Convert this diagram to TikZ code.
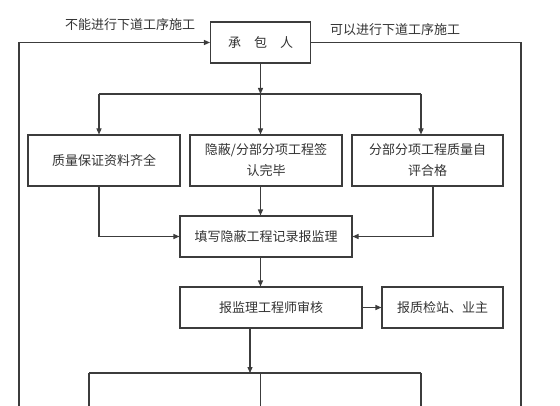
\documentclass[tikz,border=0pt]{standalone}
\usepackage{fontspec}
\setmainfont{Noto Sans CJK SC}
\usepackage{tikz}
\usetikzlibrary{arrows.meta,positioning,calc}
\usepackage{xcolor}
\definecolor{linegray}{HTML}{3C3C3C}
\definecolor{textgray}{HTML}{333333}
\tikzset{
  box/.style={draw=linegray, line width=0.8pt, align=center, fill=white, inner sep=0pt, text=textgray, font=\fontsize{9.75}{15.75}\selectfont},
  wideline/.style={draw=linegray, line width=0.8pt},
  arrow/.style={wideline, -{Triangle[length=4.5pt,width=3.8pt]}},
  flowlabel/.style={text=textgray, font=\fontsize{9.75}{12}\selectfont}
}

\begin{document}
\begin{tikzpicture}[x=0.75pt, y=-0.75pt]
  \useasboundingbox (0,0) rectangle (560,406);
  \node[box, minimum width=75pt, minimum height=30.75pt] (contractor) at (260.5,42.5) {承\hspace{1em}包\hspace{1em}人};
  \node[box, minimum width=114pt, minimum height=38.25pt] (quality) at (104,160.5) {质量保证资料齐全};
  \node[box, minimum width=114pt, minimum height=38.25pt] (signoff) at (266,160.5) {隐蔽/分部分项工程签\\认完毕};
  \node[box, minimum width=113.25pt, minimum height=38.25pt] (selfeval) at (427.5,160.5) {分部分项工程质量自\\评合格};
  \node[box, minimum width=129pt, minimum height=30.75pt] (record) at (266,236.5) {填写隐蔽工程记录报监理};
  \node[box, minimum width=136.5pt, minimum height=30.75pt] (review) at (271,307.5) {报监理工程师审核};
  \node[box, minimum width=90.75pt, minimum height=30.75pt] (station) at (442.5,307.5) {报质检站、业主};

  \node[flowlabel] (nogo) at (130,25) {不能进行下道工序施工};
  \node[flowlabel] (go) at (395,30) {可以进行下道工序施工};

  % split below the contractor
  \coordinate (split) at (260.5,94);
  \coordinate (busL) at (99,94);
  \coordinate (busR) at (421,94);
  \draw[arrow] (contractor.south) -- (split);
  \draw[wideline] (busL) -- (busR);
  \draw[arrow] (busL) -- (busL |- quality.north);
  \draw[arrow] (split) -- (split |- signoff.north);
  \draw[arrow] (busR) -- (busR |- selfeval.north);

  % merge into the record box
  \coordinate (selfout) at (433,0 |- selfeval.south);
  \draw[arrow] (busL |- quality.south) -- (busL |- record.west) -- (record.west);
  \draw[arrow] (split |- signoff.south) -- (split |- record.north);
  \draw[arrow] (selfout) -- (selfout |- record.east) -- (record.east);
  \draw[arrow] (split |- record.south) -- (split |- review.north);
  \draw[arrow] (review.east) -- (station.west);

  % lower split, cut off by the page edge
  \coordinate (split2) at (250,373);
  \coordinate (lowL) at (89,373);
  \coordinate (lowM) at (260.5,373);
  \coordinate (lowR) at (421,373);
  \draw[arrow] (split2 |- review.south) -- (split2);
  \draw[wideline] (lowL) -- (lowR);
  \draw[wideline] (lowL) -- ++(0,33);
  \draw[wideline] (lowM) -- ++(0,33);
  \draw[wideline] (lowR) -- ++(0,33);

  % return lines round the outside
  \coordinate (backL) at (19,406);
  \coordinate (backR) at (521,406);
  \draw[arrow] (backL) -- (backL |- contractor.west) -- (contractor.west);
  \draw[wideline] (contractor.east) -- (backR |- contractor.east) -- (backR);
\end{tikzpicture}
\end{document}
